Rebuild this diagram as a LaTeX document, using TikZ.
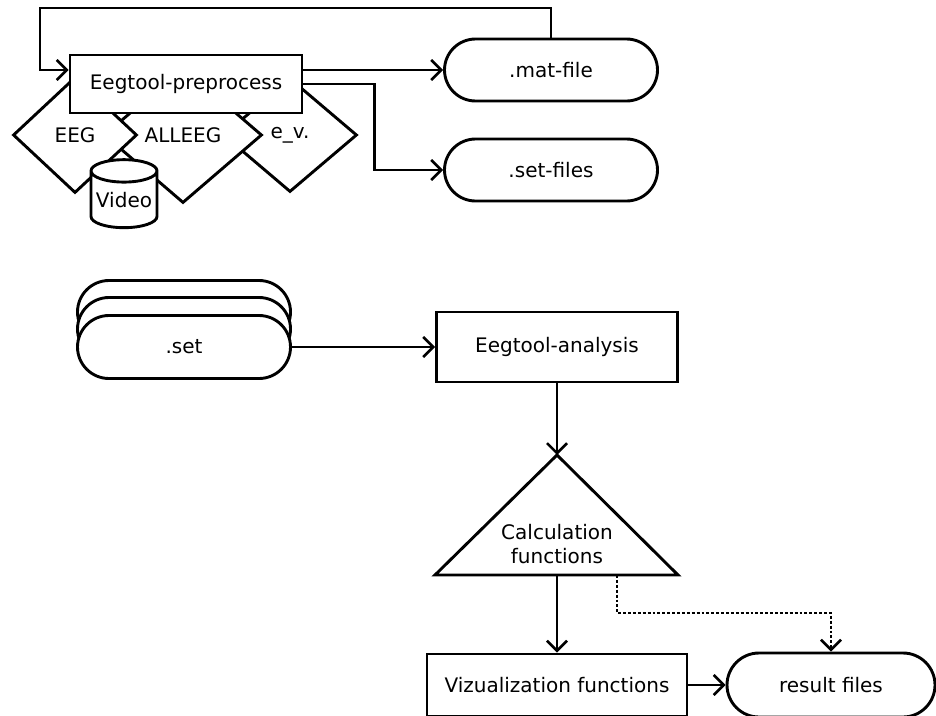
\documentclass[tikz,border=0pt]{standalone}
\usepackage{fontspec}
\setmainfont{DejaVu Sans}
\usetikzlibrary{arrows.meta,shapes.geometric,shapes.misc}
\tikzset{
  font=\fontsize{20}{24}\selectfont,
  >={Straight Barb[length=10pt,width=20pt,line width=2.6pt]},
  box/.style={draw=black, line width=2.9pt, fill=white, inner sep=0pt},
  pill/.style={box, rounded rectangle, minimum width=213pt, minimum height=62pt},
  dia/.style={box, diamond},
  can/.style={box, cylinder, shape border rotate=90, aspect=0.4},
  arr/.style={draw=black, line width=2.9pt, ->},
  dots/.style={arr, dotted},
}
\begin{document}
\begin{tikzpicture}[x=1pt,y=-1pt]
\useasboundingbox (0,0) rectangle (936,715);
% preprocessing: data sitting under the tool
\node[dia, minimum width=134pt, minimum height=114pt] (ev) at (290,135) {e\_v.};
\node[dia, minimum width=158pt, minimum height=136pt] (alleeg) at (183,135) {ALLEEG};
\node[dia, minimum width=124pt, minimum height=116pt] (eeg) at (75,135) {EEG};
\node[can, minimum width=66pt, minimum height=68pt] (video) at (124,200) {Video};
\node[box, minimum width=232pt, minimum height=58pt] (pre) at (186,84) {Eegtool-preprocess};
\node[pill] (mat) at (551,70) {.mat-file};
\node[pill] (setf) at (551,170) {.set-files};
\coordinate (loop) at (40,8);
\draw[arr] (mat.north) |- (loop) |- (pre.west |- mat.west);
\draw[arr] (pre.east |- mat.west) -- (mat.west);
\draw[arr] (pre.east) -- ++(71,0) |- (setf.west);
% analysis
\node[pill, minimum height=63pt] (set3) at (184,312) {};
\node[pill, minimum height=63pt] (set2) at (184,329) {};
\node[pill, minimum height=63pt] (set1) at (184,347) {.set};
\node[box, minimum width=241pt, minimum height=70pt] (ana) at (557,347) {Eegtool-analysis};
\coordinate (calctop) at (557,455);
\coordinate (calcbot) at (557,575);
\coordinate (calcdot) at (617,575);
\draw[box] (calctop) -- (678,575) -- (435,575) -- cycle;
\node[align=center] (calc) at (557,544) {Calculation\\functions};
\node[box, minimum width=260pt, minimum height=62pt] (viz) at (557,685) {Vizualization functions};
\node[pill, minimum width=208pt, minimum height=64pt] (res) at (831,685) {result files};
\draw[arr] (set1.east) -- (ana.west);
\draw[arr] (ana.south) -- (calctop);
\draw[arr] (calcbot) -- (viz.north);
\draw[dots] (calcdot) -- ++(0,38) -| (res.north);
\draw[arr] (viz.east) -- (res.west);
\end{tikzpicture}
\end{document}
